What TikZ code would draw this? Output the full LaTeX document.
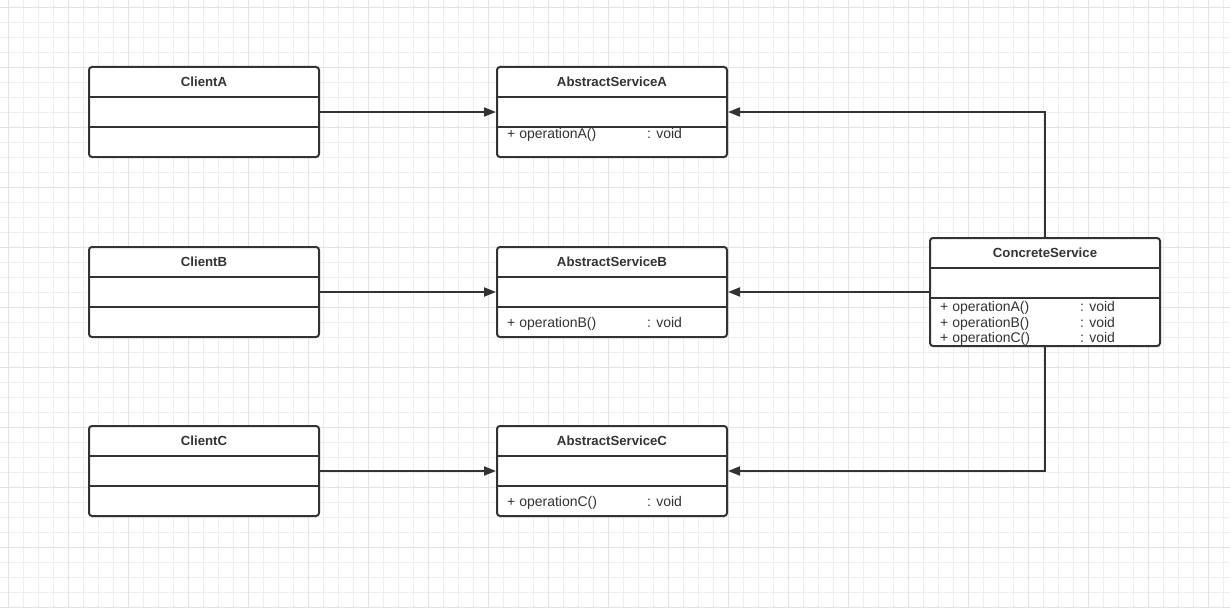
\documentclass[tikz,border=0pt]{standalone}
\usepackage{fontspec}
\setmainfont{Liberation Sans}
\usetikzlibrary{arrows.meta}
\definecolor{ink}{HTML}{333333}
\definecolor{gridminor}{HTML}{EEEEEE}
\definecolor{gridmajor}{HTML}{E3E3E3}
\tikzset{
  cls/.style={draw=ink, line width=2pt, rounded corners=3pt, fill=white, minimum width=230pt, inner sep=0pt},
  divider/.style={draw=ink, line width=2pt},
  ttl/.style={font=\bfseries\fontsize{13.2}{15}\selectfont, text=ink, inner sep=0pt},
  op/.style={font=\fontsize{14}{16}\selectfont, text=ink, inner sep=0pt, anchor=base west},
  arr/.style={draw=ink, line width=2pt, -{Triangle[length=12pt, width=9pt]}},
}
\begin{document}
\begin{tikzpicture}[x=1pt, y=-1pt]
\useasboundingbox (0,0) rectangle (1230,607);
\fill[white] (0,0) rectangle (1230,607);
% grid
\foreach \x in {8,23,...,1230} \draw[gridminor, line width=0.8pt] (\x,0) -- (\x,607);
\foreach \y in {7,22,...,607} \draw[gridminor, line width=0.8pt] (0,\y) -- (1230,\y);
\foreach \x in {8,68,...,1230} \draw[gridmajor, line width=0.9pt] (\x,0) -- (\x,607);
\foreach \y in {7,67,...,607} \draw[gridmajor, line width=0.9pt] (0,\y) -- (1230,\y);

% Clients
\node[cls, minimum height=90pt] (ca) at (204,112) {};
\draw[divider] (ca.west |- 0,97) -- (ca.east |- 0,97);
\draw[divider] (ca.west |- 0,127) -- (ca.east |- 0,127);
\node[ttl] (cat) at (204,82) {ClientA};

\node[cls, minimum height=90pt] (cb) at (204,292) {};
\draw[divider] (cb.west |- 0,277) -- (cb.east |- 0,277);
\draw[divider] (cb.west |- 0,307) -- (cb.east |- 0,307);
\node[ttl] (cbt) at (204,262) {ClientB};

\node[cls, minimum height=90pt] (cc) at (204,471) {};
\draw[divider] (cc.west |- 0,456) -- (cc.east |- 0,456);
\draw[divider] (cc.west |- 0,486) -- (cc.east |- 0,486);
\node[ttl] (cct) at (204,441) {ClientC};

% Abstract services
\node[cls, minimum height=90pt] (asa) at (612,112) {};
\draw[divider] (asa.west |- 0,97) -- (asa.east |- 0,97);
\draw[divider] (asa.west |- 0,127) -- (asa.east |- 0,127);
\node[ttl] (asat) at (612,82) {AbstractServiceA};
\node[op] (asao) at (507,139) {+ operationA()};
\node[op] (asav) at (647,139) {: void};

\node[cls, minimum height=90pt] (asb) at (612,292) {};
\draw[divider] (asb.west |- 0,277) -- (asb.east |- 0,277);
\draw[divider] (asb.west |- 0,307) -- (asb.east |- 0,307);
\node[ttl] (asbt) at (612,262) {AbstractServiceB};
\node[op] (asbo) at (507,327) {+ operationB()};
\node[op] (asbv) at (647,327) {: void};

\node[cls, minimum height=90pt] (asc) at (612,471) {};
\draw[divider] (asc.west |- 0,456) -- (asc.east |- 0,456);
\draw[divider] (asc.west |- 0,486) -- (asc.east |- 0,486);
\node[ttl] (asct) at (612,441) {AbstractServiceC};
\node[op] (asco) at (507,506) {+ operationC()};
\node[op] (ascv) at (647,506) {: void};

% Concrete service
\node[cls, minimum height=108pt] (cs) at (1045,292) {};
\draw[divider] (cs.west |- 0,268) -- (cs.east |- 0,268);
\draw[divider] (cs.west |- 0,298) -- (cs.east |- 0,298);
\node[ttl] (cst) at (1045,253) {ConcreteService};
\node[op] (csoa) at (940,311.5) {+ operationA()};
\node[op] (csva) at (1080,311.5) {: void};
\node[op] (csob) at (940,327) {+ operationB()};
\node[op] (csvb) at (1080,327) {: void};
\node[op] (csoc) at (940,342.5) {+ operationC()};
\node[op] (csvc) at (1080,342.5) {: void};

% connectors
\draw[arr] (ca.east) -- (asa.west);
\draw[arr] (cb.east) -- (asb.west);
\draw[arr] (cc.east) -- (asc.west);
\draw[arr] (cs.north) |- (asa.east);
\draw[arr] (cs.west) -- (asb.east);
\draw[arr] (cs.south) |- (asc.east);
\end{tikzpicture}
\end{document}
